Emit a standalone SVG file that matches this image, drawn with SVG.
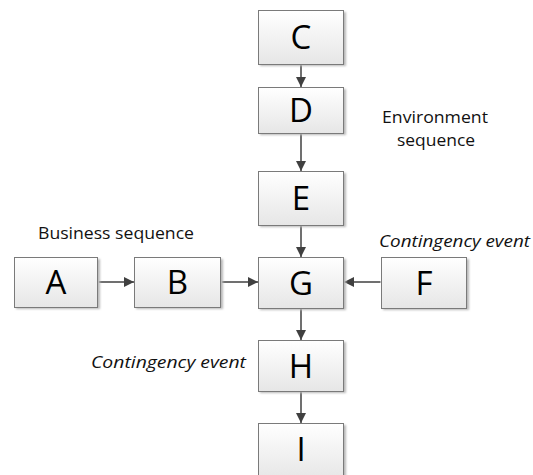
<svg xmlns="http://www.w3.org/2000/svg" width="533" height="475" viewBox="0 0 533 475">
  <defs>
    <linearGradient id="boxFill" x1="0" y1="0" x2="0" y2="1">
      <stop offset="0" stop-color="#ffffff"/>
      <stop offset="1" stop-color="#e6e6e6"/>
    </linearGradient>
    <marker id="arrow" markerUnits="userSpaceOnUse" markerWidth="10" markerHeight="10" viewBox="0 0 10 10" refX="10" refY="5" orient="auto">
      <path d="M0,0 L10,5 L0,10 Z" fill="#404040"/>
    </marker>
    <filter id="soft" x="-10%" y="-10%" width="130%" height="130%">
      <feGaussianBlur stdDeviation="0.8"/>
    </filter>
  </defs>
  <style>
    .shadow { fill: #b8b8b8; filter: url(#soft); }
    .box { fill: url(#boxFill); stroke: #7a7a7a; stroke-width: 1; }
    .letter { font-family: "Open Sans", "Liberation Sans", sans-serif; font-size: 33px; fill: #000; text-anchor: middle; }
    .label { font-family: "Open Sans", "Liberation Sans", sans-serif; font-size: 16px; fill: #111; }
    .italic { font-style: italic; }
    .conn { stroke: #404040; stroke-width: 1.5; fill: none; marker-end: url(#arrow); }
  </style>

  <rect width="533" height="475" fill="#ffffff"/>

  <!-- connectors -->
  <g id="connectors">
    <line class="conn" x1="301" y1="64.5" x2="301" y2="87"/>
    <line class="conn" x1="301" y1="133.5" x2="301" y2="171"/>
    <line class="conn" x1="301" y1="225.5" x2="301" y2="257"/>
    <line class="conn" x1="98.5" y1="282" x2="134" y2="282"/>
    <line class="conn" x1="221.5" y1="282" x2="258" y2="282"/>
    <line class="conn" x1="380.5" y1="282" x2="344" y2="282"/>
    <line class="conn" x1="301" y1="308.5" x2="301" y2="340"/>
    <line class="conn" x1="301" y1="391.5" x2="301" y2="423"/>
  </g>

  <!-- nodes -->
  <g id="node-C">
    <rect class="shadow" x="260" y="12" width="86" height="54"/>
    <rect class="box" x="258.5" y="10.5" width="85" height="54"/>
    <text class="letter" x="301" y="49">C</text>
  </g>
  <g id="node-D">
    <rect class="shadow" x="260" y="89" width="86" height="46"/>
    <rect class="box" x="258.5" y="87.5" width="85" height="46"/>
    <text class="letter" x="301" y="122">D</text>
  </g>
  <g id="node-E">
    <rect class="shadow" x="260" y="173" width="86" height="54"/>
    <rect class="box" x="258.5" y="171.5" width="85" height="54"/>
    <text class="letter" x="301" y="210">E</text>
  </g>
  <g id="node-G">
    <rect class="shadow" x="260" y="259" width="86" height="51"/>
    <rect class="box" x="258.5" y="257.5" width="85" height="51"/>
    <text class="letter" x="301" y="294.5">G</text>
  </g>
  <g id="node-H">
    <rect class="shadow" x="260" y="342" width="86" height="51"/>
    <rect class="box" x="258.5" y="340.5" width="85" height="51"/>
    <text class="letter" x="301" y="377.5">H</text>
  </g>
  <g id="node-I">
    <rect class="shadow" x="260" y="425" width="86" height="56"/>
    <rect class="box" x="258.5" y="423.5" width="85" height="56"/>
    <text class="letter" x="301" y="461">I</text>
  </g>
  <g id="node-A">
    <rect class="shadow" x="16" y="259" width="84" height="50"/>
    <rect class="box" x="14.5" y="257.5" width="83" height="50"/>
    <text class="letter" x="56" y="294">A</text>
  </g>
  <g id="node-B">
    <rect class="shadow" x="136" y="259" width="87" height="50"/>
    <rect class="box" x="134.5" y="257.5" width="86" height="50"/>
    <text class="letter" x="177.5" y="294">B</text>
  </g>
  <g id="node-F">
    <rect class="shadow" x="383" y="259" width="86" height="51"/>
    <rect class="box" x="381.5" y="257.5" width="85" height="51"/>
    <text class="letter" x="424" y="294.5">F</text>
  </g>

  <!-- annotations -->
  <g id="labels">
    <text class="label" x="38" y="239" textLength="156" lengthAdjust="spacingAndGlyphs">Business sequence</text>
    <text class="label" x="382" y="123" textLength="106" lengthAdjust="spacingAndGlyphs">Environment</text>
    <text class="label" x="397" y="146" textLength="78" lengthAdjust="spacingAndGlyphs">sequence</text>
    <text class="label italic" x="379" y="247" textLength="151" lengthAdjust="spacingAndGlyphs">Contingency event</text>
    <text class="label italic" x="91" y="368" textLength="155" lengthAdjust="spacingAndGlyphs">Contingency event</text>
  </g>
</svg>
